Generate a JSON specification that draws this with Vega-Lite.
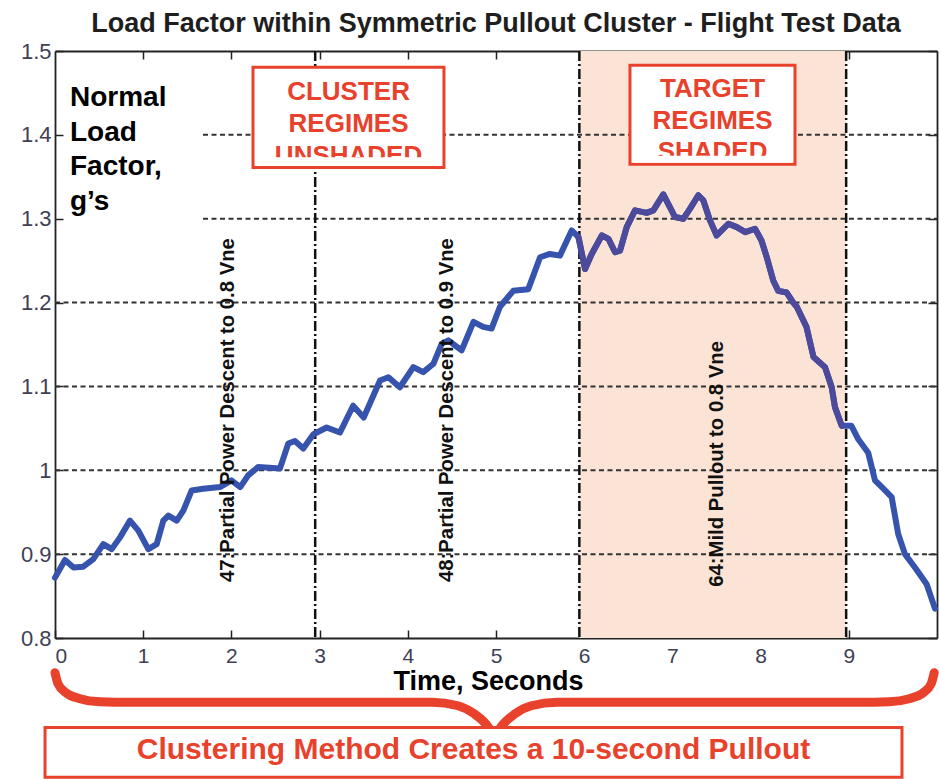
{
  "$schema": "https://vega.github.io/schema/vega-lite/v6.json",
  "width": 882,
  "height": 587,
  "autosize": {"type": "none"},
  "padding": {"left": 55, "top": 51, "right": 3, "bottom": 141},
  "background": "white",
  "title": {
    "text": "Load Factor within Symmetric Pullout Cluster - Flight Test Data",
    "fontSize": 27, "fontWeight": "bold", "color": "#1e1e1e",
    "anchor": "middle", "frame": "group", "offset": 2
  },
  "config": {
    "font": "Liberation Sans",
    "view": {"stroke": null},
    "axis": {
      "grid": false, "zindex": 1, "domainColor": "#222", "domainWidth": 1.8,
      "tickColor": "#222", "tickWidth": 1.5, "labelFont": "Liberation Sans",
      "labelFontSize": 21, "labelColor": "#404055"
    }
  },
  "datasets": {
    "nz": [
      {"t": 0, "g": 0.872}, {"t": 0.113, "g": 0.893}, {"t": 0.21, "g": 0.884}, {"t": 0.32, "g": 0.885},
      {"t": 0.434, "g": 0.894}, {"t": 0.548, "g": 0.912}, {"t": 0.643, "g": 0.906}, {"t": 0.737, "g": 0.92},
      {"t": 0.85, "g": 0.94}, {"t": 0.945, "g": 0.928}, {"t": 1.058, "g": 0.906}, {"t": 1.153, "g": 0.912},
      {"t": 1.228, "g": 0.94}, {"t": 1.285, "g": 0.946}, {"t": 1.38, "g": 0.94}, {"t": 1.455, "g": 0.952},
      {"t": 1.55, "g": 0.976}, {"t": 1.68, "g": 0.978}, {"t": 1.87, "g": 0.98}, {"t": 2.0, "g": 0.988},
      {"t": 2.1, "g": 0.98}, {"t": 2.19, "g": 0.994}, {"t": 2.305, "g": 1.004}, {"t": 2.55, "g": 1.002},
      {"t": 2.645, "g": 1.032}, {"t": 2.72, "g": 1.035}, {"t": 2.815, "g": 1.026}, {"t": 2.93, "g": 1.043},
      {"t": 3.08, "g": 1.051}, {"t": 3.23, "g": 1.045}, {"t": 3.38, "g": 1.077}, {"t": 3.5, "g": 1.063},
      {"t": 3.685, "g": 1.107}, {"t": 3.78, "g": 1.111}, {"t": 3.91, "g": 1.099}, {"t": 4.063, "g": 1.123},
      {"t": 4.175, "g": 1.117}, {"t": 4.29, "g": 1.127}, {"t": 4.385, "g": 1.151}, {"t": 4.46, "g": 1.155},
      {"t": 4.61, "g": 1.143}, {"t": 4.745, "g": 1.177}, {"t": 4.855, "g": 1.171}, {"t": 4.95, "g": 1.169},
      {"t": 5.045, "g": 1.195}, {"t": 5.196, "g": 1.214}, {"t": 5.366, "g": 1.216}, {"t": 5.5, "g": 1.254},
      {"t": 5.61, "g": 1.258}, {"t": 5.725, "g": 1.256}, {"t": 5.858, "g": 1.286}, {"t": 5.935, "g": 1.278},
      {"t": 6.01, "g": 1.24}, {"t": 6.085, "g": 1.258}, {"t": 6.2, "g": 1.28}, {"t": 6.275, "g": 1.276},
      {"t": 6.35, "g": 1.26}, {"t": 6.406, "g": 1.262}, {"t": 6.482, "g": 1.29}, {"t": 6.576, "g": 1.31},
      {"t": 6.708, "g": 1.307}, {"t": 6.784, "g": 1.31}, {"t": 6.897, "g": 1.329}, {"t": 7.03, "g": 1.302},
      {"t": 7.124, "g": 1.3}, {"t": 7.2, "g": 1.312}, {"t": 7.294, "g": 1.328}, {"t": 7.35, "g": 1.322},
      {"t": 7.426, "g": 1.298}, {"t": 7.502, "g": 1.28}, {"t": 7.635, "g": 1.294}, {"t": 7.73, "g": 1.29},
      {"t": 7.826, "g": 1.284}, {"t": 7.937, "g": 1.288}, {"t": 8.01, "g": 1.274}, {"t": 8.07, "g": 1.254},
      {"t": 8.144, "g": 1.226}, {"t": 8.2, "g": 1.214}, {"t": 8.296, "g": 1.212}, {"t": 8.37, "g": 1.2},
      {"t": 8.41, "g": 1.195}, {"t": 8.52, "g": 1.171}, {"t": 8.6, "g": 1.135}, {"t": 8.73, "g": 1.123},
      {"t": 8.806, "g": 1.099}, {"t": 8.844, "g": 1.075}, {"t": 8.92, "g": 1.053}, {"t": 9.03, "g": 1.053},
      {"t": 9.108, "g": 1.037}, {"t": 9.22, "g": 1.021}, {"t": 9.297, "g": 0.988}, {"t": 9.392, "g": 0.978},
      {"t": 9.486, "g": 0.968}, {"t": 9.56, "g": 0.924}, {"t": 9.637, "g": 0.9}, {"t": 9.75, "g": 0.884},
      {"t": 9.883, "g": 0.864}, {"t": 9.977, "g": 0.835}
    ],
    "grid": [
      {"g": 1.4, "gx": 1.678}, {"g": 1.3, "gx": 1.678}, {"g": 1.2, "gx": 0},
      {"g": 1.1, "gx": 0}, {"g": 1.0, "gx": 0}, {"g": 0.9, "gx": 0}
    ],
    "vlines": [{"v": 2.95}, {"v": 5.945}, {"v": 8.97}],
    "shade": [{"s1": 5.945, "s2": 8.97}],
    "notes": [
      {"t": 1.956, "g": 1.0718, "label": "47:Partial Power Descent to 0.8 Vne"},
      {"t": 4.45, "g": 1.0718, "label": "48:Partial Power Descent to 0.9 Vne"},
      {"t": 7.5, "g": 1.0076, "label": "64:Mild Pullout to 0.8 Vne"}
    ],
    "ylab": [
      {"t": 0.17, "g": 1.434, "label": "Normal"},
      {"t": 0.17, "g": 1.3928, "label": "Load"},
      {"t": 0.17, "g": 1.3517, "label": "Factor,"},
      {"t": 0.17, "g": 1.3105, "label": "g’s"}
    ],
    "boxes": [
      {"x1": 2.245, "x2": 4.41, "y1": 1.4805, "y2": 1.3612, "cx1": 2.28, "cx2": 4.375, "cy1": 1.3732, "cy2": 1.363},
      {"x1": 6.519, "x2": 8.39, "y1": 1.4829, "y2": 1.3648, "cx1": 6.554, "cx2": 8.355, "cy1": 1.375, "cy2": 1.3666}
    ],
    "boxtext": [
      {"tx": 3.328, "ty": 1.4412, "label": "CLUSTER"},
      {"tx": 3.328, "ty": 1.4033, "label": "REGIMES"},
      {"tx": 3.328, "ty": 1.3655, "label": "UNSHADED"},
      {"tx": 7.455, "ty": 1.4451, "label": "TARGET"},
      {"tx": 7.455, "ty": 1.4074, "label": "REGIMES"},
      {"tx": 7.455, "ty": 1.3697, "label": "SHADED"}
    ],
    "brace": [
      {"bx": 0, "by": 0.7586, "half": "L"}, {"bx": 0.034, "by": 0.7455, "half": "L"},
      {"bx": 0.125, "by": 0.7347, "half": "L"}, {"bx": 0.283, "by": 0.7276, "half": "L"},
      {"bx": 0.51, "by": 0.724, "half": "L"}, {"bx": 0.85, "by": 0.7234, "half": "L"},
      {"bx": 4.274, "by": 0.7234, "half": "L"}, {"bx": 4.569, "by": 0.7192, "half": "L"},
      {"bx": 4.751, "by": 0.7097, "half": "L"}, {"bx": 4.916, "by": 0.6933, "half": "L"},
      {"bx": 4.984, "by": 0.681, "half": "L"},
      {"bx": 4.984, "by": 0.681, "half": "R"}, {"bx": 5.052, "by": 0.6933, "half": "R"},
      {"bx": 5.218, "by": 0.7097, "half": "R"}, {"bx": 5.399, "by": 0.7192, "half": "R"},
      {"bx": 5.694, "by": 0.7234, "half": "R"}, {"bx": 9.118, "by": 0.7234, "half": "R"},
      {"bx": 9.458, "by": 0.724, "half": "R"}, {"bx": 9.685, "by": 0.7276, "half": "R"},
      {"bx": 9.844, "by": 0.7347, "half": "R"}, {"bx": 9.934, "by": 0.7455, "half": "R"},
      {"bx": 9.968, "by": 0.7586, "half": "R"}
    ],
    "bottombox": [
      {"x1": -0.113, "x2": 9.603, "y1": 0.6933, "y2": 0.634, "tx": 4.745, "ty": 0.6556,
       "label": "Clustering Method Creates a 10-second Pullout"}
    ]
  },
  "resolve": {"axis": {"x": "independent", "y": "independent"}},
  "layer": [
    {
      "data": {"name": "shade"},
      "mark": {"type": "rect", "color": "#fbe4d6"},
      "encoding": {
        "x": {"field": "s1", "type": "quantitative", "scale": {"domain": [0, 10], "nice": false, "zero": false}, "axis": null},
        "x2": {"field": "s2"},
        "y": {"datum": 1.5, "type": "quantitative", "scale": {"domain": [0.8, 1.5], "nice": false, "zero": false}, "axis": null},
        "y2": {"datum": 0.8}
      }
    },
    {
      "data": {"name": "grid"},
      "mark": {"type": "rule", "color": "#333", "strokeWidth": 2, "strokeDash": [5, 3.5]},
      "encoding": {
        "x": {"field": "gx", "type": "quantitative", "scale": {"domain": [0, 10], "nice": false, "zero": false}, "axis": null},
        "x2": {"datum": 10},
        "y": {"field": "g", "type": "quantitative", "scale": {"domain": [0.8, 1.5], "nice": false, "zero": false},
              "axis": {"orient": "right", "values": [0.8, 0.9, 1.0, 1.1, 1.2, 1.3, 1.4, 1.5], "labels": false, "tickSize": -9, "title": null}}
      }
    },
    {
      "data": {"name": "vlines"},
      "mark": {"type": "rule", "color": "#111", "strokeWidth": 2.5, "strokeDash": [10, 3, 2, 3]},
      "encoding": {
        "x": {"field": "v", "type": "quantitative", "scale": {"domain": [0, 10], "nice": false, "zero": false},
              "axis": {"orient": "top", "values": [1, 2, 3, 4, 5, 6, 7, 8, 9], "labels": false, "tickSize": -8, "title": null}}
      }
    },
    {
      "data": {"name": "nz"},
      "mark": {"type": "line", "color": "#3654ad", "strokeWidth": 6, "strokeJoin": "round", "strokeCap": "round"},
      "encoding": {
        "x": {"field": "t", "type": "quantitative", "scale": {"domain": [0, 10], "nice": false, "zero": false},
              "axis": {"orient": "bottom", "values": [0, 1, 2, 3, 4, 5, 6, 7, 8, 9], "tickSize": -8, "labelPadding": 15,
                       "title": "Time, Seconds", "titleFontSize": 27, "titleFontWeight": "bold", "titleColor": "#000",
                       "titleX": 433, "titleY": 51, "titleBaseline": "alphabetic", "titleAlign": "center"}},
        "y": {"field": "g", "type": "quantitative", "scale": {"domain": [0.8, 1.5], "nice": false, "zero": false},
              "axis": {"orient": "left", "values": [0.8, 0.9, 1.0, 1.1, 1.2, 1.3, 1.4, 1.5], "format": "~g", "tickSize": -8,
                       "labelPadding": 12, "labelFontSize": 22, "title": null}}
      }
    },
    {
      "data": {"name": "nz"},
      "transform": [{"filter": "datum.t >= 5.93 && datum.t <= 8.93"}],
      "mark": {"type": "line", "color": "#4d4a9c", "strokeWidth": 6, "strokeJoin": "round", "strokeCap": "round"},
      "encoding": {
        "x": {"field": "t", "type": "quantitative", "scale": {"domain": [0, 10], "nice": false, "zero": false}, "axis": null},
        "y": {"field": "g", "type": "quantitative", "scale": {"domain": [0.8, 1.5], "nice": false, "zero": false}, "axis": null}
      }
    },
    {
      "data": {"name": "notes"},
      "mark": {"type": "text", "angle": 270, "fontSize": 20.3, "fontWeight": "bold", "color": "#111", "align": "center", "baseline": "middle"},
      "encoding": {
        "x": {"field": "t", "type": "quantitative", "scale": {"domain": [0, 10], "nice": false, "zero": false}, "axis": null},
        "y": {"field": "g", "type": "quantitative", "scale": {"domain": [0.8, 1.5], "nice": false, "zero": false}, "axis": null},
        "text": {"field": "label"}
      }
    },
    {
      "data": {"name": "ylab"},
      "mark": {"type": "text", "align": "left", "baseline": "alphabetic", "fontSize": 28, "fontWeight": "bold", "color": "#000"},
      "encoding": {
        "x": {"field": "t", "type": "quantitative", "scale": {"domain": [0, 10], "nice": false, "zero": false}, "axis": null},
        "y": {"field": "g", "type": "quantitative", "scale": {"domain": [0.8, 1.5], "nice": false, "zero": false}, "axis": null},
        "text": {"field": "label"}
      }
    },
    {
      "data": {"name": "boxes"},
      "mark": {"type": "rect", "fill": "#ffffff", "stroke": "#e8412c", "strokeWidth": 3},
      "encoding": {
        "x": {"field": "x1", "type": "quantitative", "scale": {"domain": [0, 10], "nice": false, "zero": false}, "axis": null},
        "x2": {"field": "x2"},
        "y": {"field": "y1", "type": "quantitative", "scale": {"domain": [0.8, 1.5], "nice": false, "zero": false}, "axis": null},
        "y2": {"field": "y2"}
      }
    },
    {
      "data": {"name": "boxtext"},
      "mark": {"type": "text", "align": "center", "baseline": "alphabetic", "fontSize": 26, "fontWeight": "bold", "color": "#e8412c"},
      "encoding": {
        "x": {"field": "tx", "type": "quantitative", "scale": {"domain": [0, 10], "nice": false, "zero": false}, "axis": null},
        "y": {"field": "ty", "type": "quantitative", "scale": {"domain": [0.8, 1.5], "nice": false, "zero": false}, "axis": null},
        "text": {"field": "label"}
      }
    },
    {
      "data": {"name": "boxes"},
      "mark": {"type": "rect", "fill": "#ffffff"},
      "encoding": {
        "x": {"field": "cx1", "type": "quantitative", "scale": {"domain": [0, 10], "nice": false, "zero": false}, "axis": null},
        "x2": {"field": "cx2"},
        "y": {"field": "cy1", "type": "quantitative", "scale": {"domain": [0.8, 1.5], "nice": false, "zero": false}, "axis": null},
        "y2": {"field": "cy2"}
      }
    },
    {
      "data": {"name": "brace"},
      "mark": {"type": "line", "color": "#e8412c", "strokeWidth": 9, "interpolate": "monotone", "strokeCap": "round", "clip": false},
      "encoding": {
        "x": {"field": "bx", "type": "quantitative", "scale": {"domain": [0, 10], "nice": false, "zero": false}, "axis": null},
        "y": {"field": "by", "type": "quantitative", "scale": {"domain": [0.8, 1.5], "nice": false, "zero": false}, "axis": null},
        "detail": {"field": "half", "type": "nominal"}
      }
    },
    {
      "data": {"name": "bottombox"},
      "mark": {"type": "rect", "fill": "#ffffff", "stroke": "#e8412c", "strokeWidth": 3, "clip": false},
      "encoding": {
        "x": {"field": "x1", "type": "quantitative", "scale": {"domain": [0, 10], "nice": false, "zero": false}, "axis": null},
        "x2": {"field": "x2"},
        "y": {"field": "y1", "type": "quantitative", "scale": {"domain": [0.8, 1.5], "nice": false, "zero": false}, "axis": null},
        "y2": {"field": "y2"}
      }
    },
    {
      "data": {"name": "bottombox"},
      "mark": {"type": "text", "align": "center", "baseline": "alphabetic", "fontSize": 30, "fontWeight": "bold", "color": "#e8412c", "clip": false},
      "encoding": {
        "x": {"field": "tx", "type": "quantitative", "scale": {"domain": [0, 10], "nice": false, "zero": false}, "axis": null},
        "y": {"field": "ty", "type": "quantitative", "scale": {"domain": [0.8, 1.5], "nice": false, "zero": false}, "axis": null},
        "text": {"field": "label"}
      }
    }
  ]
}
